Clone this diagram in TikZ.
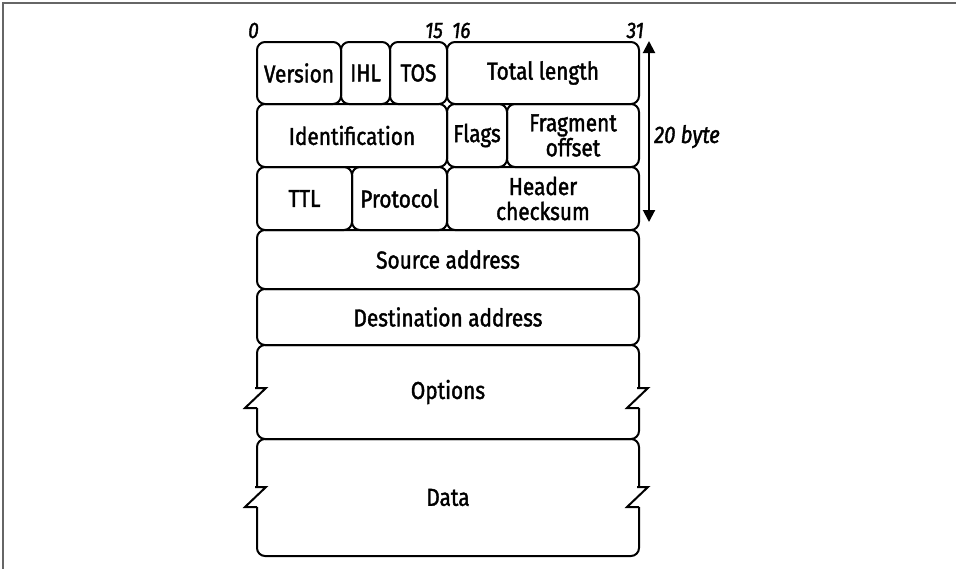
\documentclass[tikz,border=0pt]{standalone}
\usepackage{fontspec}
\setmainfont{Fira Sans}[FakeStretch=0.85, FakeBold=1.6]
\usetikzlibrary{arrows.meta}
\newcommand\fieldfont{\fontsize{24.5}{25}\selectfont}
\newcommand\bitfont{\fontsize{22.5}{24}\selectfont\itshape}
\newcommand\lenfont{\fontsize{24}{26}\selectfont\itshape}
\begin{document}
\begin{tikzpicture}[x=1pt,y=-1pt,
  field/.style={draw, line width=2pt, rounded corners=8pt, anchor=north west,
    inner sep=0pt, align=center, font=\fieldfont},
  bitlbl/.style={inner sep=0pt, font=\bitfont},
  zig/.style={line width=2pt, miter limit=10},
  frame/.style={draw=black!60, line width=2pt},
  measure/.style={line width=2pt, {Triangle[length=12pt,width=12pt]}-{Triangle[length=12pt,width=12pt]}}]
\useasboundingbox (0,0) rectangle (956,568);
\path[frame] (3,570) -- (3,3) -- (958,3);
% row 1
\node[field, minimum width=84pt, minimum height=62pt] (ver) at (256,41) {Version};
\node[field, minimum width=49pt, minimum height=62pt] (ihl) at (340,41) {IHL};
\node[field, minimum width=57pt, minimum height=62pt] (tos) at (389,41) {TOS};
\node[field, minimum width=192pt, minimum height=62pt] (tl) at (446,41) {Total length};
% row 2
\node[field, minimum width=190pt, minimum height=63pt] (id) at (256,103) {Identification};
\node[field, minimum width=60pt, minimum height=63pt] (flags) at (446,103) {Flags};
\node[field, minimum width=132pt, minimum height=63pt] (frag) at (506,103) {Fragment\\offset};
% row 3
\node[field, minimum width=95pt, minimum height=63pt] (ttl) at (256,166) {TTL};
\node[field, minimum width=95pt, minimum height=63pt] (prot) at (351,166) {Protocol};
\node[field, minimum width=192pt, minimum height=63pt] (hc) at (446,166) {Header\\checksum};
% addresses
\node[field, minimum width=382pt, minimum height=59pt] (src) at (256,229) {Source address};
\node[field, minimum width=382pt, minimum height=56pt] (dst) at (256,288) {Destination address};
% options and data with broken sides
\node[field, minimum width=382pt, minimum height=94pt] (opt) at (256,344) {Options};
\node[field, minimum width=382pt, minimum height=117pt] (data) at (256,438) {Data};
\fill[white] (253,388) rectangle (259,408);
\fill[white] (635,388) rectangle (641,408);
\fill[white] (253,487) rectangle (259,507);
\fill[white] (635,487) rectangle (641,507);
\draw[zig] (256,387) -- (256,388) -- (266,388) -- (245,408) -- (256,408) -- (256,409);
\draw[zig] (638,387) -- (638,388) -- (648,388) -- (627,408) -- (638,408) -- (638,409);
\draw[zig] (256,486) -- (256,487) -- (266,487) -- (245,507) -- (256,507) -- (256,508);
\draw[zig] (638,486) -- (638,487) -- (648,487) -- (627,507) -- (638,507) -- (638,508);
% bit numbers
\node[bitlbl, anchor=base west] (b0) at (248,38) {0};
\node[bitlbl, anchor=base east] (b15) at (443,38) {15};
\node[bitlbl, anchor=base west] (b16) at (452,38) {16};
\node[bitlbl, anchor=base east] (b31) at (644,38) {31};
% 20 byte measure
\coordinate (mtop) at (649,41);
\coordinate (mbot) at (649,222);
\draw[measure] (mtop) -- (mbot);
\node[bitlbl, font=\lenfont, anchor=base west] (len) at (654,143) {20 byte};
\end{tikzpicture}
\end{document}
